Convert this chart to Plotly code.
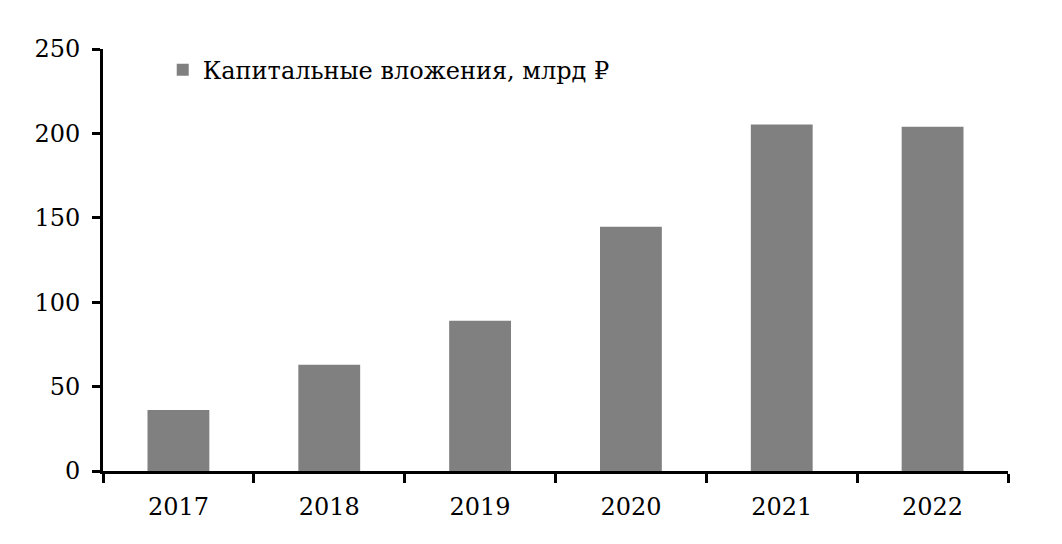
import plotly.graph_objects as go

years = ['2017', '2018', '2019', '2020', '2021', '2022']
capex = [36.2, 62.9, 89.0, 144.7, 205.2, 204.0]
series_name = 'Капитальные вложения, млрд ₽'

FONT = 'DejaVu Serif'

fig = go.Figure()

fig.add_trace(
    go.Bar(
        x=years,
        y=capex,
        name=series_name,
        marker_color='#808080',
        marker_line_width=0,
        showlegend=True
    )
)

# page body adds an 8px offset, so the figure is sized a bit smaller
fig.update_layout(
    width=1054,
    height=536,
    margin=dict(l=95, r=54, t=41, b=73),
    paper_bgcolor='white',
    plot_bgcolor='white',
    font=dict(family=FONT, size=24, color='black'),
    bargap=0.59,
    showlegend=True,
    legend=dict(
        x=0.066,
        y=1.003,
        xanchor='left',
        yanchor='top',
        bgcolor='rgba(0,0,0,0)',
        font=dict(family=FONT, size=24, color='black'),
        itemwidth=30
    )
)

fig.update_xaxes(
    showline=True,
    linecolor='black',
    linewidth=3,
    ticks='outside',
    tickson='boundaries',
    ticklen=9,
    tickwidth=3,
    tickcolor='black',
    showgrid=False,
    ticklabelstandoff=12
)

fig.update_yaxes(
    range=[0, 250],
    tickvals=[0, 50, 100, 150, 200, 250],
    showline=True,
    linecolor='black',
    linewidth=3,
    ticks='outside',
    ticklen=8,
    tickwidth=3,
    tickcolor='black',
    showgrid=False,
    zeroline=False,
    ticklabelstandoff=7
)

fig.write_html("out.html")
